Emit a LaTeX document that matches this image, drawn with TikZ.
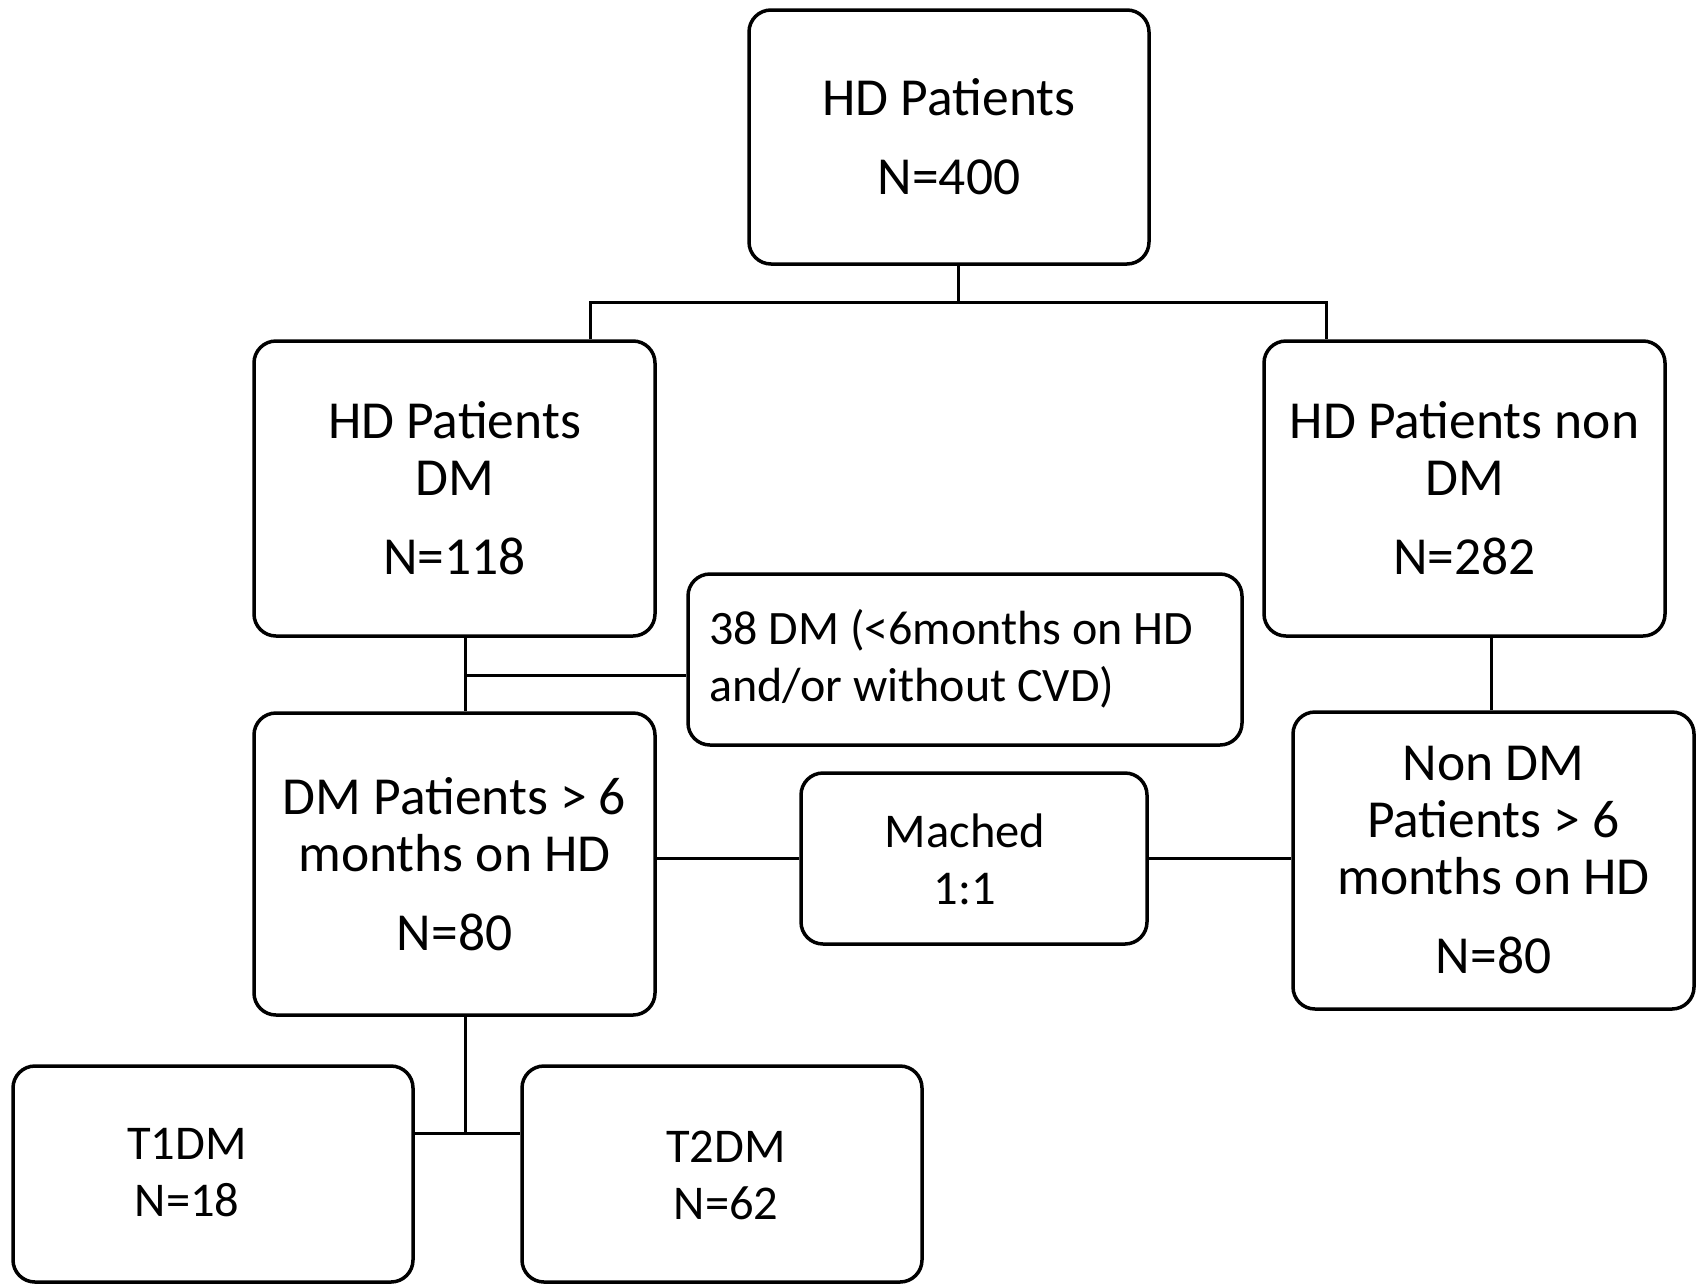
\documentclass[tikz,border=0pt]{standalone}
\usepackage{fontspec}
\setmainfont{Carlito}
\begin{document}
\begin{tikzpicture}[x=1pt,y=-1pt,
  box/.style={draw, line width=3.5pt, rounded corners=22pt, inner sep=0pt, align=center, font=\fontsize{53.5}{57}\selectfont},
  small/.style={inner sep=0pt, align=center, font=\fontsize{48.5}{57}\selectfont},
  conn/.style={line width=3pt}]
\useasboundingbox[fill=white] (0,0) rectangle (1697,1283);
% boxes
\node[box, minimum width=400pt, minimum height=254pt] (top) at (949,137) {HD Patients\\[22pt]N=400};
\node[box, minimum width=401pt, minimum height=295pt] (dm) at (454.5,488.5) {HD Patients\\DM\\[22pt]N=118};
\node[box, minimum width=401pt, minimum height=295pt] (nondm) at (1464.5,488.5) {HD Patients non\\DM\\[22pt]N=282};
\node[box, minimum width=554pt, minimum height=171pt] (excl) at (965,659.5) {};
\node[inner sep=0pt, anchor=west, align=left, font=\fontsize{48}{57}\selectfont] (excltxt) at (709,659) {38 DM (<6months on HD\\and/or without CVD)};
\node[box, minimum width=401pt, minimum height=302pt] (dm6) at (454.5,864) {DM Patients > 6\\months on HD\\[22pt]N=80};
\node[box, minimum width=346pt, minimum height=171pt] (mat) at (974,858.5) {};
\node[small] (mattxt) at (965,859) {Mached\\1:1};
\node[box, minimum width=401pt, minimum height=297pt] (nondm6) at (1493.5,860.5) {Non DM\\Patients > 6\\months on HD\\[22pt]N=80};
\node[box, minimum width=400pt, minimum height=216pt] (t1) at (213,1174) {};
\node[small] (t1txt) at (187,1173) {T1DM\\N=18};
\node[box, minimum width=400pt, minimum height=216pt] (t2) at (722,1174) {};
\node[small] (t2txt) at (726,1175) {T2DM\\N=62};
% connectors
\coordinate (j0) at (958,302);
\coordinate (jl) at (590,302);
\coordinate (jr) at (1326,302);
\draw[conn] (top.south -| j0) -- (j0);
\draw[conn] (dm.north -| jl) -- (jl) -- (jr) -- (nondm.north -| jr);
\coordinate (lv) at (465,675);
\draw[conn] (dm.south -| lv) -- (dm6.north -| lv);
\draw[conn] (lv) -- (excl.west |- lv);
\coordinate (rv) at (1491.5,660);
\draw[conn] (nondm.south -| rv) -- (nondm6.north -| rv);
\draw[conn] (dm6.east |- mat.west) -- (mat.west);
\draw[conn] (mat.east) -- (nondm6.west |- mat.east);
\coordinate (bj) at (465,1133);
\draw[conn] (dm6.south -| bj) -- (bj);
\draw[conn] (t1.east |- bj) -- (t2.west |- bj);
\end{tikzpicture}
\end{document}
